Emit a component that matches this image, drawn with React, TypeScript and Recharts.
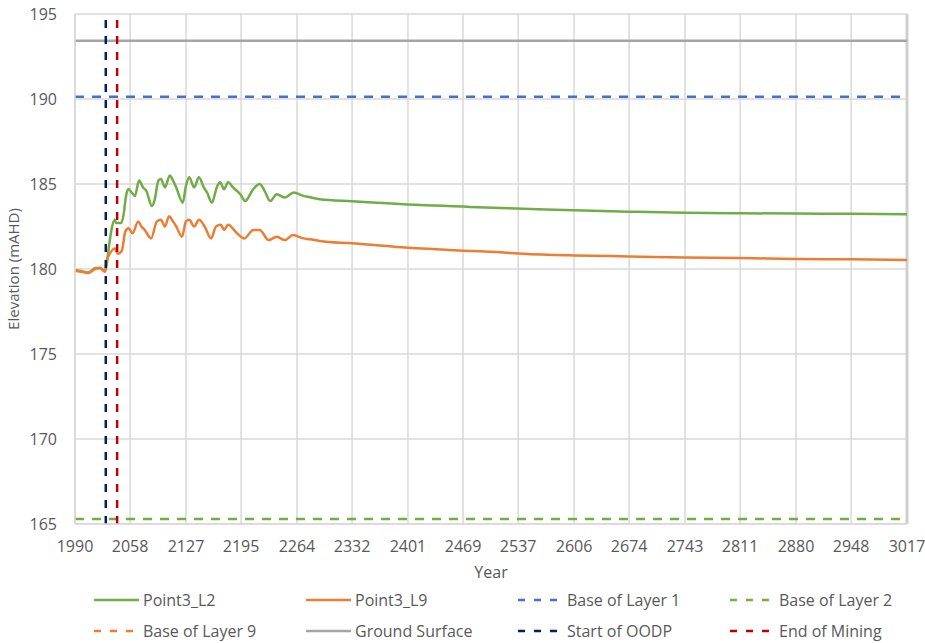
import React from "react";
import { CartesianGrid, Label, Line, LineChart, ReferenceLine, XAxis, YAxis } from "recharts";

// Axis ticks as printed on the reference.
const yearTicks = [1990, 2058, 2127, 2195, 2264, 2332, 2401, 2469, 2537, 2606, 2674, 2743, 2811, 2880, 2948, 3017];
const elevationTicks = [165, 170, 175, 180, 185, 190, 195];

// Point3_L2 hydrograph (year, mAHD).
const l2Years = [
  1990, 2000, 2006, 2012, 2015, 2021, 2027, 2029, 2031, 2033, 2035, 2039, 2041, 2043, 2047, 2050, 2053, 2056,
  2060, 2064, 2069, 2074, 2078, 2085, 2088, 2093, 2096, 2101, 2107, 2111, 2115, 2123, 2127, 2131, 2137, 2143,
  2149, 2153, 2159, 2165, 2169, 2174, 2179, 2185, 2194, 2200, 2210, 2218, 2224, 2231, 2239, 2249, 2260, 2272,
  2280, 2292, 2332, 2370, 2401, 2436, 2469, 2515, 2543, 2606, 2674, 2743, 2811, 2880, 2948, 3017,
];
const l2Elev = [
  179.94, 179.85, 179.8, 179.95, 180.06, 180.06, 179.86, 180.2, 181.0, 181.7, 182.3, 182.9, 182.7, 182.7, 182.7,
  183.2, 184.3, 184.7, 184.5, 184.3, 185.2, 184.8, 184.6, 183.7, 184.0, 185.2, 185.3, 184.8, 185.5, 185.2, 184.8,
  183.9, 184.9, 185.4, 184.8, 185.4, 184.8, 184.5, 183.9, 184.8, 185.1, 184.7, 185.1, 184.8, 184.4, 184.0, 184.7,
  185.0, 184.6, 184.0, 184.4, 184.2, 184.5, 184.3, 184.22, 184.1, 183.98, 183.88, 183.8, 183.73, 183.67, 183.59,
  183.55, 183.45, 183.37, 183.31, 183.28, 183.26, 183.25, 183.22,
];

// Point3_L9 hydrograph (year, mAHD).
const l9Years = [
  1990, 2000, 2006, 2012, 2015, 2021, 2027, 2029, 2033, 2039, 2043, 2048, 2052, 2056, 2061, 2068, 2072, 2076,
  2084, 2091, 2096, 2101, 2106, 2111, 2115, 2122, 2127, 2131, 2137, 2143, 2150, 2158, 2164, 2170, 2174, 2179,
  2190, 2199, 2210, 2218, 2229, 2239, 2249, 2259, 2272, 2280, 2292, 2332, 2370, 2401, 2436, 2469, 2515, 2543,
  2606, 2674, 2743, 2811, 2880, 2948, 3017,
];
const l9Elev = [
  179.9, 179.82, 179.76, 179.92, 180.0, 180.06, 179.84, 180.5, 180.9, 181.2, 180.9, 181.1, 182.2, 182.4, 182.1,
  182.8, 182.5, 182.3, 181.8, 182.8, 182.9, 182.5, 183.1, 182.8, 182.5, 181.9, 182.8, 182.9, 182.5, 182.9, 182.5,
  181.8, 182.5, 182.6, 182.3, 182.6, 182.1, 181.8, 182.3, 182.3, 181.7, 181.9, 181.7, 182.0, 181.8, 181.75,
  181.65, 181.51, 181.37, 181.25, 181.16, 181.08, 180.98, 180.9, 180.8, 180.74, 180.68, 180.65, 180.59, 180.57,
  180.53,
];

// Constant reference levels and dates.
const groundSurface = 193.43;
const baseOfLayer1 = 190.13;
const baseOfLayer2 = 165.3;
const baseOfLayer9 = 162.0; // below the plotted range, legend only
const startOfOODP = 2028;
const endOfMining = 2042;

const l2Data = l2Years.map((year, i) => ({ year, value: l2Elev[i] }));
const l9Data = l9Years.map((year, i) => ({ year, value: l9Elev[i] }));

const FONT = "'Open Sans', 'Liberation Sans', sans-serif";
const TEXT = "#595959";
const GRID = "#D9D9D9";

const legendEntries = [
  { name: "Point3_L2", color: "#70AD47", dashed: false },
  { name: "Point3_L9", color: "#ED7D31", dashed: false },
  { name: "Base of Layer 1", color: "#4472C4", dashed: true },
  { name: "Base of Layer 2", color: "#70AD47", dashed: true },
  { name: "Base of Layer 9", color: "#ED7D31", dashed: true },
  { name: "Ground Surface", color: "#A5A5A5", dashed: false },
  { name: "Start of OODP", color: "#002060", dashed: true },
  { name: "End of Mining", color: "#C00000", dashed: true },
];

function ChartLegend() {
  return (
    <div
      style={{
        position: "absolute",
        left: 94,
        top: 584,
        display: "grid",
        gridTemplateColumns: "repeat(4, 212px)",
        gridAutoRows: "31px",
        fontFamily: FONT,
        fontSize: 16,
        color: TEXT,
      }}
    >
      {legendEntries.map((e) => (
        <div key={e.name} style={{ display: "flex", alignItems: "center", whiteSpace: "nowrap" }}>
          <svg width={45} height={6}>
            <line
              x1={0}
              y1={3}
              x2={45}
              y2={3}
              stroke={e.color}
              strokeWidth={2.5}
              strokeDasharray={e.dashed ? "7 9" : undefined}
            />
          </svg>
          <span style={{ marginLeft: 4 }}>{e.name}</span>
        </div>
      ))}
    </div>
  );
}

export default function App() {
  return (
    <div style={{ position: "absolute", left: 0, top: 0, width: 925, height: 643, background: "#fff" }}>
      <LineChart width={925} height={643} margin={{ top: 14, right: 18, bottom: 0, left: 0 }}>
        <CartesianGrid stroke={GRID} strokeWidth={1.5} />
        <XAxis
          dataKey="year"
          type="number"
          domain={[1990, 3017]}
          ticks={yearTicks}
          interval={0}
          height={119}
          allowDuplicatedCategory={false}
          axisLine={{ stroke: GRID, strokeWidth: 1.5 }}
          tickLine={false}
          tickSize={0}
          tickMargin={17}
          tick={{ fill: TEXT, fontSize: 16, fontFamily: FONT }}
        >
          <Label
            content={() => (
              <text x={491} y={572} textAnchor="middle" dominantBaseline="central" fill={TEXT} fontSize={16} fontFamily={FONT}>
                Year
              </text>
            )}
          />
        </XAxis>
        <YAxis
          type="number"
          domain={[165, 195]}
          ticks={elevationTicks}
          allowDataOverflow
          width={75}
          axisLine={{ stroke: GRID, strokeWidth: 1.5 }}
          tickLine={false}
          tickSize={0}
          tickMargin={18}
          tick={{ fill: TEXT, fontSize: 16, fontFamily: FONT }}
        >
          <Label
            content={() => (
              <text
                x={13}
                y={269}
                transform="rotate(-90 13 269)"
                textAnchor="middle"
                dominantBaseline="central"
                fill={TEXT}
                fontSize={15}
                fontFamily={FONT}
              >
                Elevation (mAHD)
              </text>
            )}
          />
        </YAxis>
        <ReferenceLine x={3017} stroke="#CFCFCF" strokeWidth={3} />
        <ReferenceLine y={groundSurface} stroke="#A5A5A5" strokeWidth={2.5} />
        <ReferenceLine y={baseOfLayer1} stroke="#4472C4" strokeWidth={2.5} strokeDasharray="9 8" />
        <ReferenceLine y={baseOfLayer2} stroke="#70AD47" strokeWidth={2.5} strokeDasharray="9 8" />
        <ReferenceLine y={baseOfLayer9} stroke="#ED7D31" strokeWidth={2.5} strokeDasharray="9 8" />
        <Line
          data={l2Data}
          dataKey="value"
          type="monotone"
          stroke="#70AD47"
          strokeWidth={2.5}
          dot={false}
          isAnimationActive={false}
        />
        <Line
          data={l9Data}
          dataKey="value"
          type="monotone"
          stroke="#ED7D31"
          strokeWidth={2.5}
          dot={false}
          isAnimationActive={false}
        />
        <ReferenceLine x={startOfOODP} stroke="#002060" strokeWidth={2.5} strokeDasharray="8 8" />
        <ReferenceLine x={endOfMining} stroke="#C00000" strokeWidth={2.5} strokeDasharray="8 8" />
      </LineChart>
      <ChartLegend />
    </div>
  );
}
